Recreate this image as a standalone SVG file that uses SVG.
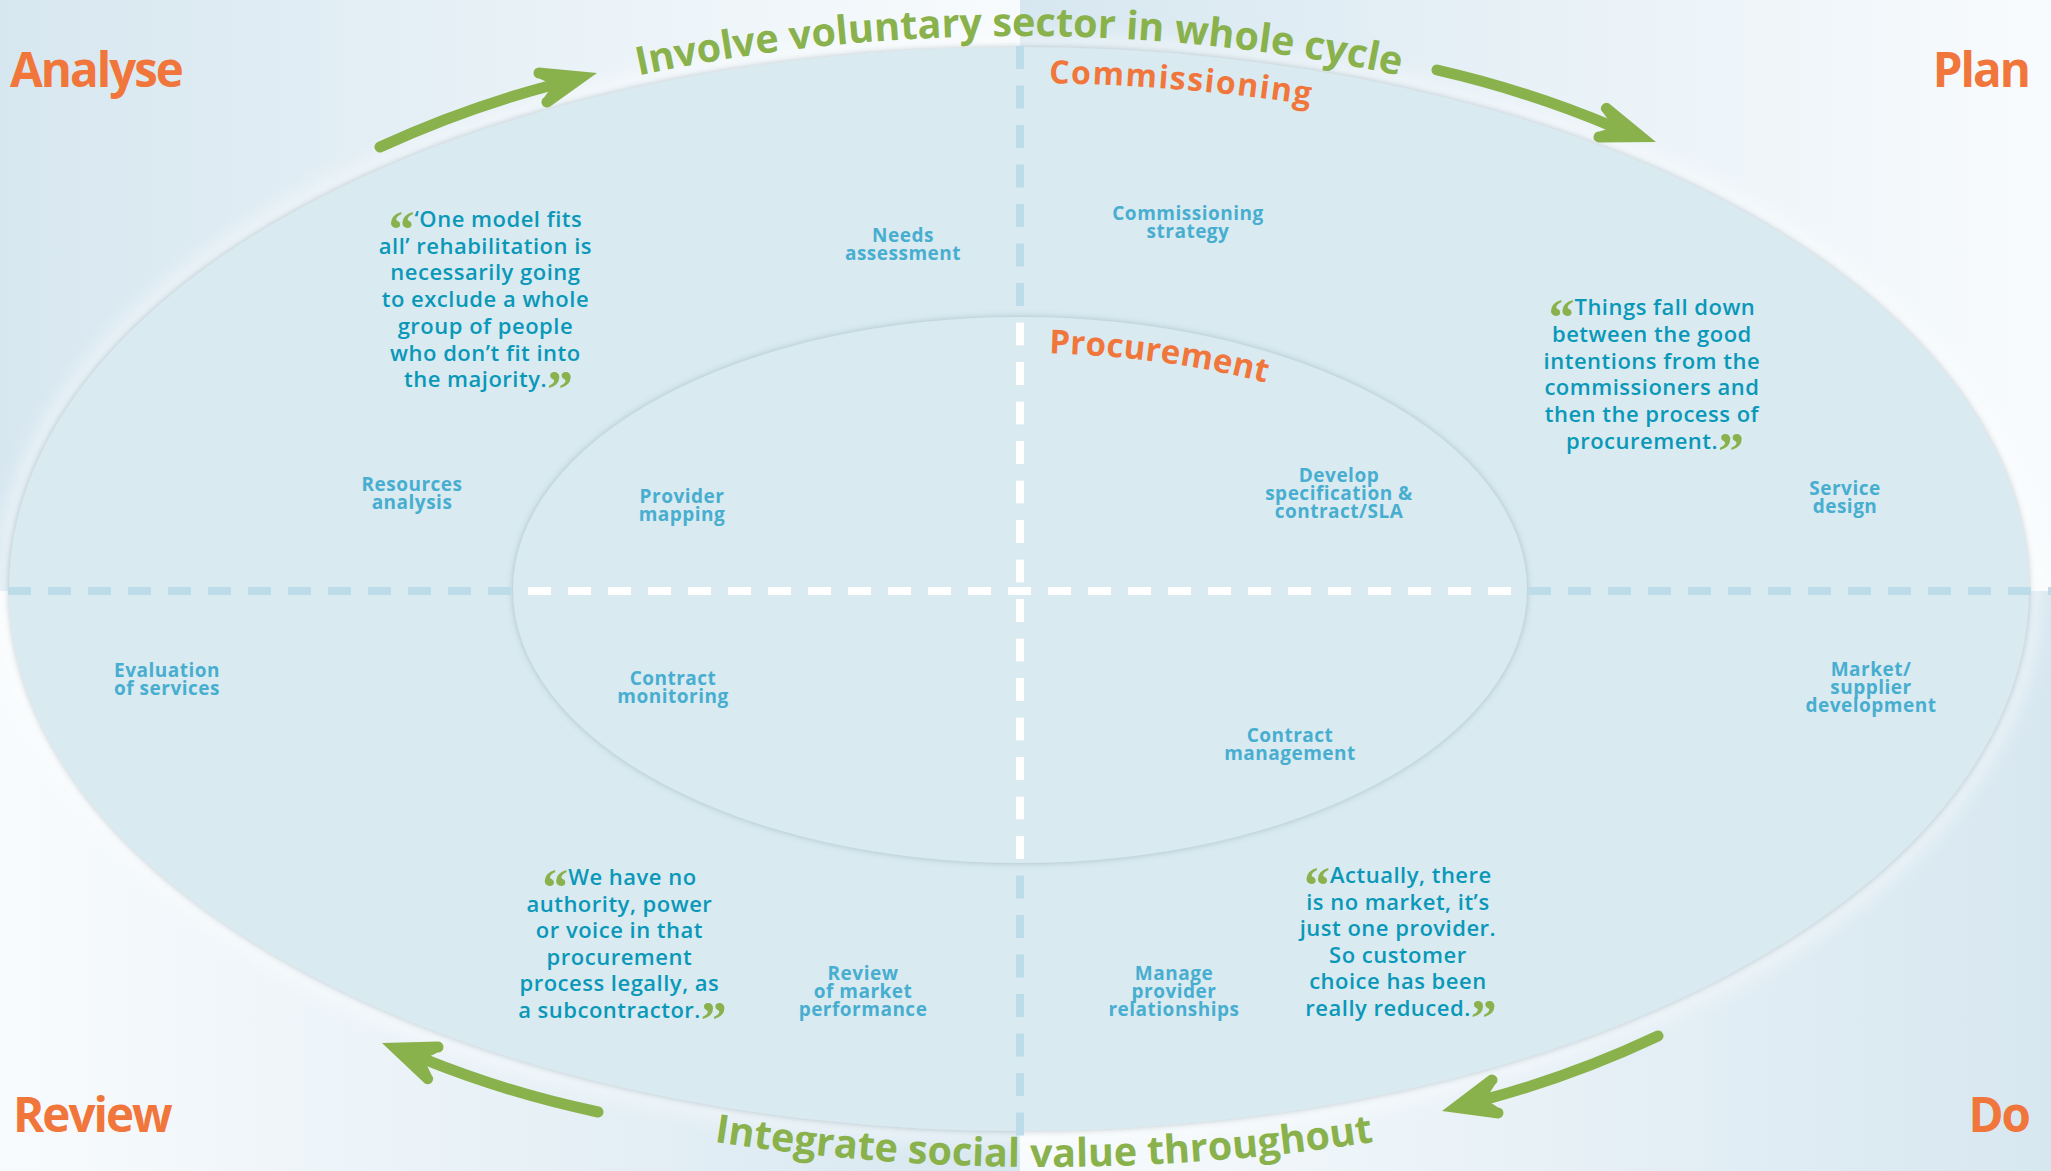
<svg xmlns="http://www.w3.org/2000/svg" width="2051" height="1171" viewBox="0 0 2051 1171">
  <defs>
    <style>
      .title{font-family:"Open Sans","Liberation Sans",sans-serif;font-weight:700;font-size:47.5px;letter-spacing:-2px;fill:#f1763b}
      .arc{font-family:"Open Sans","Liberation Sans",sans-serif;font-weight:700;font-size:39.5px;fill:#89b14c}
      .phase{font-family:"Open Sans","Liberation Sans",sans-serif;font-weight:700;fill:#f1763b}
      .lbl{font-family:"Open Sans","Liberation Sans",sans-serif;font-weight:700;font-size:19px;letter-spacing:0.5px;fill:#48aed0;text-anchor:middle}
      .q{font-family:"Open Sans","Liberation Sans",sans-serif;font-weight:600;font-size:22px;letter-spacing:0.5px;fill:#0a98b9;text-anchor:middle}
      .qm{font-family:"Liberation Serif","Times New Roman",serif;fill:#89b14c;font-weight:700;font-size:52px;letter-spacing:0}
      .shaft{fill:none;stroke:#89b14c;stroke-width:11;stroke-linecap:round}
      .head{fill:#89b14c}
      .dash{fill:none;stroke-width:8}
    </style>
    <linearGradient id="bgBW" x1="0" y1="0" x2="1" y2="0">
      <stop offset="0" stop-color="#d7e7f0"/>
      <stop offset="1" stop-color="#f8fbfd"/>
    </linearGradient>
    <linearGradient id="bgWB" x1="0" y1="0" x2="1" y2="0">
      <stop offset="0" stop-color="#f8fbfd"/>
      <stop offset="1" stop-color="#d7e7f0"/>
    </linearGradient>
    <filter id="edge" x="-5%" y="-5%" width="110%" height="110%">
      <feDropShadow dx="0" dy="0" stdDeviation="3" flood-color="#6f8591" flood-opacity="0.45"/>
    </filter>
    <filter id="glow" x="-10%" y="-10%" width="120%" height="120%">
      <feGaussianBlur stdDeviation="9"/>
    </filter>
    <clipPath id="innerClip">
      <ellipse cx="1020" cy="590" rx="507" ry="273"/>
    </clipPath>
    <!-- baselines for the curved captions -->
    <path id="topArc" d="M -5 589 A 1024 553 0 0 1 2043 589"/>
    <path id="bottomArc" d="M -86 590 A 1130 577 0 0 0 2174 590"/>
    <path id="commArc" d="M 1019 83 A 1000 506 0 0 1 2019 589"/>
    <path id="procArc" d="M 1020 353 A 507 237 0 0 1 1527 590"/>
  </defs>

  <!-- quadrant backgrounds -->
  <g id="background">
    <rect x="0" y="0" width="1020" height="591" fill="url(#bgBW)"/>
    <rect x="1020" y="0" width="1031" height="591" fill="url(#bgBW)"/>
    <rect x="0" y="591" width="1020" height="580" fill="url(#bgWB)"/>
    <rect x="1020" y="591" width="1031" height="580" fill="url(#bgWB)"/>
  </g>

  <!-- nested cycle rings -->
  <g id="rings">
    <ellipse cx="1019" cy="589" rx="1012" ry="544" fill="none" stroke="#ffffff" stroke-width="22" opacity="0.45" filter="url(#glow)"/>
    <ellipse id="outer-ring" cx="1019" cy="589" rx="1010" ry="542" fill="#d9eaf1" filter="url(#edge)"/>
    <ellipse id="inner-ring" cx="1020" cy="590" rx="507" ry="273" fill="#d9eaf1" filter="url(#edge)"/>
  </g>

  <!-- quadrant dividers -->
  <g id="dividers">
    <line class="dash" x1="8" y1="591" x2="2051" y2="591" stroke="#bcdcea" stroke-dasharray="23 17"/>
    <line class="dash" x1="1020" y1="46" x2="1020" y2="1140" stroke="#bcdcea" stroke-dasharray="23 16.5"/>
    <g clip-path="url(#innerClip)">
      <line class="dash" x1="8" y1="591" x2="2051" y2="591" stroke="#ffffff" stroke-dasharray="23 17"/>
      <line class="dash" x1="1020" y1="46" x2="1020" y2="1140" stroke="#ffffff" stroke-dasharray="23 16.5"/>
    </g>
  </g>

  <!-- corner stage titles -->
  <g id="stage-analyse"><text class="title" x="10" y="87">Analyse</text></g>
  <g id="stage-plan"><text class="title" x="2029" y="87" text-anchor="end">Plan</text></g>
  <g id="stage-review"><text class="title" x="13" y="1132">Review</text></g>
  <g id="stage-do"><text class="title" x="2029" y="1132" text-anchor="end">Do</text></g>

  <!-- curved captions -->
  <g id="caption-involve">
    <text class="arc"><textPath href="#topArc" startOffset="50%" text-anchor="middle">Involve voluntary sector in whole cycle</textPath></text>
  </g>
  <g id="caption-integrate">
    <text class="arc"><textPath href="#bottomArc" startOffset="50%" text-anchor="middle">Integrate social value throughout</textPath></text>
  </g>
  <g id="ring-commissioning">
    <text class="phase" font-size="32" letter-spacing="1.5"><textPath href="#commArc" startOffset="30">Commissioning</textPath></text>
  </g>
  <g id="ring-procurement">
    <text class="phase" font-size="33" letter-spacing="0.2"><textPath href="#procArc" startOffset="29">Procurement</textPath></text>
  </g>

  <!-- activity labels -->
  <g id="needs-assessment"><text class="lbl" x="903" y="242"><tspan x="903">Needs</tspan><tspan x="903" dy="18">assessment</tspan></text></g>
  <g id="commissioning-strategy"><text class="lbl" x="1188" y="220"><tspan x="1188">Commissioning</tspan><tspan x="1188" dy="18">strategy</tspan></text></g>
  <g id="resources-analysis"><text class="lbl" x="412" y="491"><tspan x="412">Resources</tspan><tspan x="412" dy="18">analysis</tspan></text></g>
  <g id="provider-mapping"><text class="lbl" x="682" y="503"><tspan x="682">Provider</tspan><tspan x="682" dy="18">mapping</tspan></text></g>
  <g id="develop-specification"><text class="lbl" x="1339" y="482"><tspan x="1339">Develop</tspan><tspan x="1339" dy="18">specification &amp;</tspan><tspan x="1339" dy="18">contract/SLA</tspan></text></g>
  <g id="service-design"><text class="lbl" x="1845" y="495"><tspan x="1845">Service</tspan><tspan x="1845" dy="18">design</tspan></text></g>
  <g id="evaluation-of-services"><text class="lbl" x="167" y="677"><tspan x="167">Evaluation</tspan><tspan x="167" dy="18">of services</tspan></text></g>
  <g id="contract-monitoring"><text class="lbl" x="673" y="685"><tspan x="673">Contract</tspan><tspan x="673" dy="18">monitoring</tspan></text></g>
  <g id="contract-management"><text class="lbl" x="1290" y="742"><tspan x="1290">Contract</tspan><tspan x="1290" dy="18">management</tspan></text></g>
  <g id="market-supplier-development"><text class="lbl" x="1871" y="676"><tspan x="1871">Market/</tspan><tspan x="1871" dy="18">supplier</tspan><tspan x="1871" dy="18">development</tspan></text></g>
  <g id="review-market-performance"><text class="lbl" x="863" y="980"><tspan x="863">Review</tspan><tspan x="863" dy="18">of market</tspan><tspan x="863" dy="18">performance</tspan></text></g>
  <g id="manage-provider-relationships"><text class="lbl" x="1174" y="980"><tspan x="1174">Manage</tspan><tspan x="1174" dy="18">provider</tspan><tspan x="1174" dy="18">relationships</tspan></text></g>

  <!-- quotations (open/close marks dropped by 20px, then restored) -->
  <g id="quote-one-model">
    <text class="q" x="488.5" y="227">
      <tspan x="488.5"><tspan class="qm" dy="20">“</tspan><tspan dy="-20">‘One model fits</tspan></tspan>
      <tspan x="488.5" dy="26.7">all’ rehabilitation is</tspan>
      <tspan x="488.5" dy="26.7">necessarily going</tspan>
      <tspan x="488.5" dy="26.7">to exclude a whole</tspan>
      <tspan x="488.5" dy="26.7">group of people</tspan>
      <tspan x="488.5" dy="26.7">who don’t fit into</tspan>
      <tspan x="488.5" dy="26.7">the majority.<tspan class="qm" dy="20">”</tspan></tspan>
    </text>
  </g>
  <g id="quote-things-fall-down">
    <text class="q" x="1655" y="315">
      <tspan x="1655"><tspan class="qm" dy="20">“</tspan><tspan dy="-20">Things fall down</tspan></tspan>
      <tspan x="1655" dy="26.8">between the good</tspan>
      <tspan x="1655" dy="26.8">intentions from the</tspan>
      <tspan x="1655" dy="26.8">commissioners and</tspan>
      <tspan x="1655" dy="26.8">then the process of</tspan>
      <tspan x="1655" dy="26.8">procurement.<tspan class="qm" dy="20">”</tspan></tspan>
    </text>
  </g>
  <g id="quote-no-authority">
    <text class="q" x="622.5" y="885">
      <tspan x="622.5"><tspan class="qm" dy="20">“</tspan><tspan dy="-20">We have no</tspan></tspan>
      <tspan x="622.5" dy="26.5">authority, power</tspan>
      <tspan x="622.5" dy="26.5">or voice in that</tspan>
      <tspan x="622.5" dy="26.5">procurement</tspan>
      <tspan x="622.5" dy="26.5">process legally, as</tspan>
      <tspan x="622.5" dy="26.5">a subcontractor.<tspan class="qm" dy="20">”</tspan></tspan>
    </text>
  </g>
  <g id="quote-no-market">
    <text class="q" x="1401" y="883">
      <tspan x="1401"><tspan class="qm" dy="20">“</tspan><tspan dy="-20">Actually, there</tspan></tspan>
      <tspan x="1401" dy="26.5">is no market, it’s</tspan>
      <tspan x="1401" dy="26.5">just one provider.</tspan>
      <tspan x="1401" dy="26.5">So customer</tspan>
      <tspan x="1401" dy="26.5">choice has been</tspan>
      <tspan x="1401" dy="26.5">really reduced.<tspan class="qm" dy="20">”</tspan></tspan>
    </text>
  </g>

  <!-- cycle arrows -->
  <g id="connectors">
    <g id="arrow-analyse-plan">
      <path class="shaft" d="M380 147 Q464 108.3 553.5 84.7"/>
      <path class="head" d="M597 73 L539 67.5 A5.5 5.5 0 0 0 539 78.5 L553.5 84.7 L544.2 97.2 A5.5 5.5 0 0 0 549.8 106.8 Z"/>
    </g>
    <g id="arrow-plan-do">
      <path class="shaft" d="M1437 70 Q1527.7 90.7 1613.6 126.9"/>
      <path class="head" d="M1656 142 L1609.1 103.5 A5.5 5.5 0 0 0 1602.9 112.5 L1613.6 126.9 L1599.5 131.5 A5.5 5.5 0 0 0 1598.5 142.5 Z"/>
    </g>
    <g id="arrow-do-review">
      <path class="shaft" d="M1658 1036 Q1574.6 1075.3 1485.5 1099.4"/>
      <path class="head" d="M1442 1111 L1489.1 1075.3 A5.5 5.5 0 0 1 1494.9 1084.7 L1485.5 1099.4 L1498.2 1107.5 A5.5 5.5 0 0 1 1497.8 1118.5 Z"/>
    </g>
    <g id="arrow-review-analyse">
      <path class="shaft" d="M598 1112 Q508.6 1093.2 424 1059.2"/>
      <path class="head" d="M382 1043 L438.4 1041.5 A5.5 5.5 0 0 1 437.6 1052.5 L424 1059.2 L431.4 1074.7 A5.5 5.5 0 0 1 424.6 1083.3 Z"/>
    </g>
  </g>
</svg>
